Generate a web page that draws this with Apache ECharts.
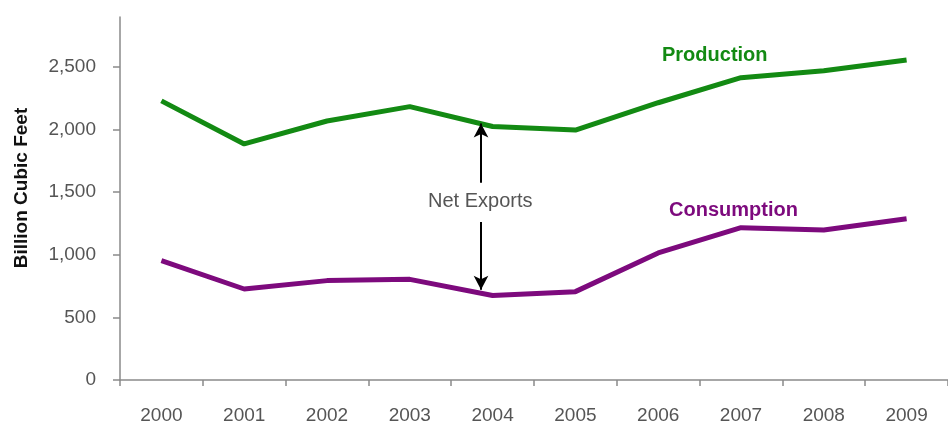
<!DOCTYPE html>
<html>
<head>
<meta charset="utf-8">
<script src="https://cdn.jsdelivr.net/npm/echarts@6/dist/echarts.min.js"></script>
<style>
  html, body { margin: 0; padding: 0; background: #fff; }
  #chart { width: 948px; height: 425px; }
</style>
</head>
<body>
<div id="chart"></div>
<script>
// Natural gas production vs. consumption, billion cubic feet
const years = ['2000', '2001', '2002', '2003', '2004', '2005', '2006', '2007', '2008', '2009'];
const production = [2230, 1886, 2069, 2184, 2025, 1997, 2215, 2415, 2470, 2557];
const consumption = [953, 727, 794, 804, 675, 706, 1015, 1217, 1198, 1289];
const yTicks = [0, 500, 1000, 1500, 2000, 2500];

// Net exports annotation: arrow position (category index) and value spans
const arrowX = 3.86;
const upArrow = [1575, 2050];
const downArrow = [1262, 722];

const GREEN = '#138a13';
const PURPLE = '#7d0a7d';
const FONT = '"Liberation Sans", Arial, sans-serif';

const chart = echarts.init(document.getElementById('chart'));
chart.setOption({
  animation: false,
  backgroundColor: '#ffffff',
  grid: { left: 120, right: -14, top: 17, bottom: 45, containLabel: false },
  xAxis: [
    {
      type: 'category',
      data: years,
      boundaryGap: true,
      axisLine: { lineStyle: { color: '#8a8a8a', width: 1.5 } },
      axisTick: { show: true, length: 6, lineStyle: { color: '#8a8a8a', width: 1.5 } },
      axisLabel: { color: '#555', fontSize: 19, fontFamily: FONT, margin: 26 },
      splitLine: { show: false }
    },
    {
      type: 'value', min: -0.5, max: 9.5, show: false
    }
  ],
  yAxis: {
    type: 'value',
    min: 0,
    max: 2900,
    axisLine: { show: true, onZero: false, lineStyle: { color: '#8a8a8a', width: 1.5 } },
    axisTick: { show: true, length: 7, customValues: yTicks, lineStyle: { color: '#8a8a8a', width: 1.5 } },
    axisLabel: {
      customValues: yTicks,
      color: '#555', fontSize: 19, fontFamily: FONT, margin: 24,
      formatter: v => v.toLocaleString('en-US')
    },
    splitLine: { show: false }
  },
  series: [
    {
      name: 'Production',
      type: 'line',
      data: production,
      symbol: 'none',
      lineStyle: { color: GREEN, width: 5 },
      itemStyle: { color: GREEN },
      z: 3
    },
    {
      name: 'Consumption',
      type: 'line',
      data: consumption,
      symbol: 'none',
      lineStyle: { color: PURPLE, width: 5 },
      itemStyle: { color: PURPLE },
      z: 3
    },
    {
      name: 'Net Exports',
      type: 'line',
      xAxisIndex: 1,
      data: [],
      symbol: 'none',
      silent: true,
      markLine: {
        silent: true,
        symbol: ['none', 'arrow'],
        symbolSize: [11, 14],
        label: { show: false },
        lineStyle: { color: '#000', width: 2, type: 'solid' },
        data: [
          [{ coord: [arrowX, upArrow[0]] }, { coord: [arrowX, upArrow[1]] }],
          [{ coord: [arrowX, downArrow[0]] }, { coord: [arrowX, downArrow[1]] }]
        ]
      },
      z: 4
    }
  ],
  graphic: [
    {
      // vertical axis title
      type: 'text', x: 22, y: 188, rotation: Math.PI / 2,
      style: {
        text: 'Billion Cubic Feet', fill: '#111', font: 'bold 19px ' + FONT,
        align: 'center', verticalAlign: 'middle'
      }
    },
    {
      type: 'text', left: 662, top: 45,
      style: { text: 'Production', fill: GREEN, font: 'bold 20px ' + FONT }
    },
    {
      type: 'text', left: 669, top: 200,
      style: { text: 'Consumption', fill: PURPLE, font: 'bold 20px ' + FONT }
    },
    {
      type: 'text', left: 428, top: 191,
      style: { text: 'Net Exports', fill: '#555', font: '20px ' + FONT }
    }
  ]
});
</script>
</body>
</html>
